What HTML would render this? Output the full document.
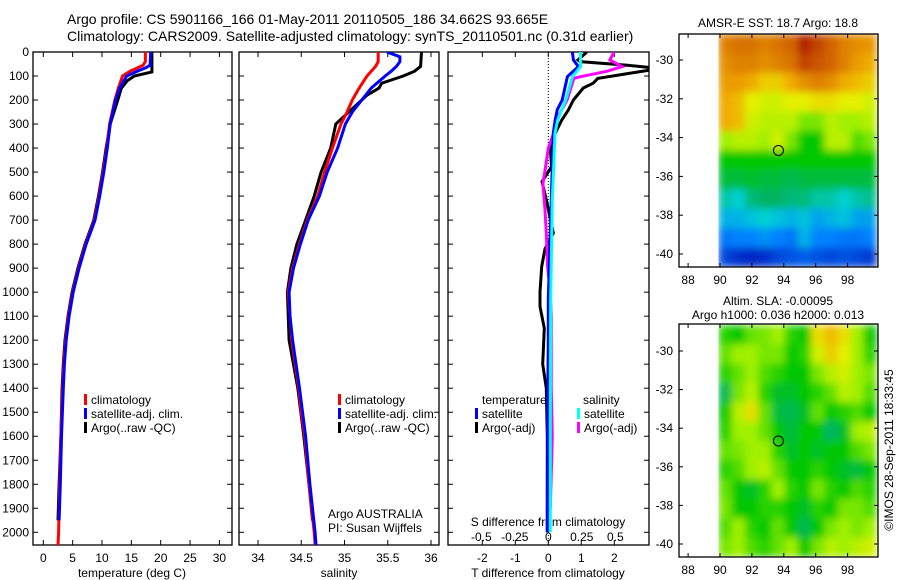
<!DOCTYPE html>
<html><head><meta charset="utf-8"><style>
body{margin:0;background:#fff;}
svg{display:block;font-family:"Liberation Sans",sans-serif;}
</style></head><body>
<svg id="fig" width="900" height="580" xmlns="http://www.w3.org/2000/svg">
<rect width="900" height="580" fill="#fff"/>
<text x="67" y="24" font-size="14">Argo profile: CS 5901166_166 01-May-2011 20110505_186 34.662S 93.665E</text>
<text x="67" y="41" font-size="14">Climatology: CARS2009. Satellite-adjusted climatology: synTS_20110501.nc (0.31d earlier)</text>
<g id="g"></g>
</svg>
<script>
// ---- data ----
const depthTc=[0,40,55,80,100,150,200,300,400,500,600,700,800,900,1000,1100,1200,1300,1400,1600,1800,2000,2053];
const tempClim=[17.4,17.4,17.0,14.8,13.5,12.8,12.2,11.3,10.8,10.2,9.5,8.7,7.2,6.0,5.0,4.3,3.8,3.5,3.3,3.0,2.8,2.6,2.5];
const depthTs=[0,55,65,80,100,150,200,300,400,500,600,700,800,900,1000,1100,1200,1300,1400,1600,1800,1950];
const tempSat=[18.3,18.2,17.5,16.0,14.2,13.0,12.3,11.4,10.9,10.3,9.6,8.8,7.3,6.1,5.1,4.4,3.9,3.6,3.4,3.1,2.9,2.7];
const depthTa=[0,83,100,120,150,200,300,400,500,600,700,800,900,1000,1100,1200,1300,1400,1600,1800,1950];
const tempArgo=[18.5,18.5,15.5,14.3,13.3,12.7,11.4,10.7,10.1,9.4,8.6,7.1,5.9,4.9,4.2,3.7,3.4,3.2,3.0,2.7,2.5];
const depthSc=[0,40,60,100,150,200,250,300,400,500,600,700,800,900,1000,1100,1200,1300,1400,1500,1600,1800,2000,2053];
const salClim=[35.39,35.39,35.36,35.26,35.17,35.09,35.03,34.96,34.86,34.77,34.69,34.57,34.48,34.40,34.35,34.37,34.39,34.43,34.47,34.50,34.54,34.59,34.65,34.66];
const depthSs=[0,20,40,60,80,100,150,200,250,300,400,500,600,700,800,900,1000,1100,1200,1400,1600,1800,2000,2053];
const salSat=[35.49,35.64,35.64,35.60,35.54,35.47,35.31,35.20,35.09,35.01,34.92,34.80,34.71,34.58,34.49,34.41,34.36,34.37,34.40,34.48,34.55,34.60,34.66,34.67];
const depthSa=[0,60,80,100,130,150,180,200,300,400,500,600,700,800,900,1000,1200,1400,1600,1800,1950];
const salArgo=[35.89,35.88,35.81,35.68,35.43,35.40,35.26,35.20,34.90,34.84,34.73,34.65,34.55,34.45,34.38,34.34,34.36,34.46,34.53,34.59,34.63];
const depthDT=[0,33,61,103,200,241,283,338,477,615,754,893,1030,1200,1500,2000];
const dTsat=[0.73,0.76,0.91,0.58,0.42,0.27,0.21,0.15,0.12,0.09,0.06,0.03,0,0,-0.02,-0.03];
const depthDA=[0,33,40,55,65,75,90,110,130,150,200,241,283,338,400,477,540,620,754,820,893,1000,1060,1150,1300,1400,1600,2000];
const dTargo=[1.17,0.9,0.97,2.4,3.1,3.1,2.4,1.5,1.36,1.06,0.76,0.61,0.41,0.21,0.06,0.1,-0.19,-0.05,0.15,-0.1,-0.2,-0.25,-0.25,-0.12,-0.17,-0.06,-0.03,-0.03];
const depthDS=[0,33,61,103,200,283,338,477,615,754,893,1030,1500,2000];
const dSsat=[0.24,0.24,0.24,0.18,0.13,0.07,0.05,0.04,0.03,0.026,0.022,0.018,0.015,0.015];
const depthDM=[0,33,61,80,103,110,200,283,338,400,477,550,650,754,893,1000,1100,1400,1600,1900];
const dSargo=[0.49,0.46,0.55,0.44,0.24,0.19,0.14,0.06,0.04,0,-0.02,-0.04,-0.025,-0.015,-0.005,0.015,0.022,0.022,0.03,0.015];
const mapLats=[-28.66,-29.66,-30.66,-31.66,-32.66,-33.66,-34.66,-35.66,-36.66,-37.66,-38.66,-39.66,-40.67];
const mapLons=[89.9,90.73,91.56,92.39,93.22,94.05,94.88,95.71,96.54,97.37,98.2,99.0,99.8];
const sstGrid=[
[0.78,0.8,0.8,0.78,0.8,0.82,0.9,0.86,0.82,0.78,0.76,0.75],
[0.76,0.78,0.78,0.76,0.78,0.8,0.86,0.84,0.82,0.78,0.74,0.72],
[0.74,0.74,0.72,0.68,0.68,0.72,0.76,0.78,0.76,0.72,0.7,0.68],
[0.72,0.7,0.64,0.62,0.62,0.64,0.64,0.66,0.66,0.64,0.64,0.62],
[0.72,0.7,0.62,0.6,0.6,0.6,0.56,0.56,0.6,0.58,0.58,0.6],
[0.58,0.6,0.6,0.58,0.62,0.56,0.5,0.5,0.6,0.6,0.54,0.56],
[0.5,0.5,0.5,0.5,0.5,0.5,0.5,0.5,0.5,0.5,0.5,0.5],
[0.47,0.47,0.48,0.47,0.47,0.46,0.47,0.47,0.47,0.47,0.47,0.47],
[0.42,0.4,0.44,0.45,0.45,0.44,0.44,0.42,0.42,0.4,0.42,0.43],
[0.36,0.36,0.38,0.4,0.38,0.36,0.38,0.34,0.36,0.38,0.34,0.34],
[0.28,0.3,0.3,0.32,0.3,0.28,0.36,0.3,0.3,0.28,0.28,0.3],
[0.2,0.16,0.14,0.16,0.2,0.22,0.24,0.22,0.2,0.22,0.2,0.18]];
const slaGrid=[
[0.52,0.5,0.55,0.56,0.58,0.52,0.5,0.66,0.7,0.66,0.58,0.5],
[0.55,0.58,0.58,0.56,0.56,0.5,0.52,0.62,0.68,0.64,0.58,0.52],
[0.52,0.55,0.58,0.54,0.52,0.5,0.5,0.56,0.6,0.62,0.58,0.56],
[0.46,0.56,0.6,0.52,0.48,0.48,0.5,0.52,0.55,0.6,0.58,0.54],
[0.5,0.6,0.66,0.55,0.47,0.46,0.48,0.55,0.5,0.52,0.54,0.5],
[0.52,0.58,0.58,0.55,0.5,0.47,0.5,0.5,0.45,0.48,0.58,0.6],
[0.55,0.56,0.58,0.58,0.52,0.48,0.5,0.48,0.5,0.5,0.54,0.56],
[0.52,0.54,0.58,0.6,0.55,0.5,0.5,0.52,0.5,0.48,0.47,0.5],
[0.55,0.5,0.48,0.52,0.58,0.52,0.5,0.56,0.52,0.5,0.54,0.52],
[0.56,0.5,0.5,0.52,0.52,0.5,0.48,0.52,0.5,0.56,0.56,0.54],
[0.54,0.58,0.52,0.5,0.55,0.5,0.46,0.5,0.56,0.58,0.56,0.58],
[0.56,0.58,0.54,0.52,0.55,0.58,0.5,0.56,0.6,0.58,0.6,0.62]];
const depthTicks=[0,100,200,300,400,500,600,700,800,900,1000,1100,1200,1300,1400,1500,1600,1700,1800,1900,2000];
const tempTicks=[0,5,10,15,20,25,30];
const salTicks=[34,34.5,35,35.5,36];
const dTTicks=[-2,-1,0,1,2];
const dSTicks=[-0.5,-0.25,0,0.25,0.5];
const dSTickLabels=["-0.5","-0.25","0","0.25","0.5"];
const lonTicks=[88,90,92,94,96,98];
const latTicks=[-30,-32,-34,-36,-38,-40];
const argoLon=93.665, argoLat=-34.662;

// ---- scales ----
const NS="http://www.w3.org/2000/svg";
const G=document.getElementById('g');
function mk(tag,attrs,parent){const e=document.createElementNS(NS,tag);for(const k in attrs)e.setAttribute(k,attrs[k]);(parent||G).appendChild(e);return e;}
const yD=d=>52+d*0.24015;
const xT=t=>43.3+t*5.87;
const xS=s=>258+(s-34)*86.5;
const xDT=v=>548.3+v*33;
const xDS=v=>548.3+v*134;
const TOP=52,BOT=545;
const panels=[{l:33,r:232},{l:239,r:439},{l:448,r:649}];

function frame(p,name){
  const r=mk('rect',{x:p.l,y:TOP,width:p.r-p.l,height:BOT-TOP,fill:'none',stroke:'#000','stroke-width':1.3});
  
  
  depthTicks.forEach(d=>{mk('line',{x1:p.l,x2:p.l+5,y1:yD(d),y2:yD(d),stroke:'#000'});mk('line',{x1:p.r,x2:p.r-5,y1:yD(d),y2:yD(d),stroke:'#000'});});
}
panels.forEach((p,i)=>frame(p,'panel-frame-'+(i+1)));
depthTicks.forEach(d=>{const t=mk('text',{x:29,y:yD(d)+4,'font-size':12,'text-anchor':'end'});t.textContent=d;

});

function xticks(ticks,labels,fx,p,ly,name){
  ticks.forEach((v,i)=>{const x=fx(v);
    mk('line',{x1:x,x2:x,y1:BOT,y2:BOT-5,stroke:'#000'});mk('line',{x1:x,x2:x,y1:TOP,y2:TOP+5,stroke:'#000'});
    const t=mk('text',{x:x,y:ly,'font-size':12,'text-anchor':'middle'});t.textContent=labels[i];
    
    });
}
xticks(tempTicks,tempTicks,xT,panels[0],562,'temperature-tick-label');
xticks(salTicks,salTicks,xS,panels[1],562,'salinity-tick-label');
xticks(dTTicks,dTTicks,xDT,panels[2],562,'tdiff-tick-label');
dSTicks.forEach((v,i)=>{const t=mk('text',{x:xDS(v),y:541,'font-size':12,'text-anchor':'middle'});t.textContent=dSTickLabels[i];

});

function label(x,y,s,name,anchor){const t=mk('text',{x:x,y:y,'font-size':12,'text-anchor':anchor||'start'});t.textContent=s;

return t;}
label(132,577,'temperature (deg C)','x-axis-title-temperature','middle');
label(339,577,'salinity','x-axis-title-salinity','middle');
label(548,577,'T difference from climatology','x-axis-title-tdiff','middle');
label(548,526,'S difference from climatology','s-diff-axis-title','middle');
label(328,518,'Argo AUSTRALIA','argo-australia-note');
label(328,532,'PI: Susan Wijffels','pi-note');

mk('line',{x1:xDT(0),x2:xDT(0),y1:TOP,y2:BOT,stroke:'#000','stroke-dasharray':'1,2'});

const defs=mk('defs',{});
function clipId(i){return 'clip'+i;}
panels.forEach((p,i)=>{const c=mk('clipPath',{id:clipId(i)},defs);mk('rect',{x:p.l,y:TOP,width:p.r-p.l,height:BOT-TOP},c);});
const blur=mk('filter',{id:'blur',x:'-5%',y:'-5%',width:'110%',height:'110%'},defs);
mk('feGaussianBlur',{stdDeviation:4,edgeMode:'duplicate'},blur);
function line(ds,vs,fx,col,pi,name){
  const pts=ds.map((d,i)=>fx(vs[i]).toFixed(1)+','+yD(d).toFixed(1)).join(' ');
  const e=mk('polyline',{points:pts,fill:'none',stroke:col,'stroke-width':3,'clip-path':'url(#'+clipId(pi)+')'});
  
  
}
line(depthTa,tempArgo,xT,'#000',0,'temp-argo-line');
line(depthTc,tempClim,xT,'#f00',0,'temp-climatology-line');
line(depthTs,tempSat,xT,'#00f',0,'temp-satellite-line');
line(depthSa,salArgo,xS,'#000',1,'sal-argo-line');
line(depthSc,salClim,xS,'#f00',1,'sal-climatology-line');
line(depthSs,salSat,xS,'#00f',1,'sal-satellite-line');
line(depthDA,dTargo,xDT,'#000',2,'tdiff-argo-line');
line(depthDM,dSargo,xDS,'#f0f',2,'sdiff-argo-line');
line(depthDT,dTsat,xDT,'#00f',2,'tdiff-satellite-line');
line(depthDS,dSsat,xDS,'#0ff',2,'sdiff-satellite-line');

function legend(x,y,items,name){
  items.forEach((it,i)=>{const yy=y+i*14;
    mk('rect',{x:x,y:yy-10,width:3,height:11,fill:it[0]});
    const t=mk('text',{x:x+7,y:yy,'font-size':12});t.textContent=it[1];
    
    });
}
legend(84,404,[['#f00','climatology'],['#00f','satellite-adj. clim.'],['#000','Argo(..raw -QC)']],'temp-legend');
legend(338,404,[['#f00','climatology'],['#00f','satellite-adj. clim.'],['#000','Argo(..raw -QC)']],'sal-legend');
label(482,404,'temperature','legend-temperature-header');
label(583,404,'salinity','legend-salinity-header');
legend(475,418,[['#00f','satellite'],['#000','Argo(-adj)']],'tdiff-legend');
legend(577,418,[['#0ff','satellite'],['#f0f','Argo(-adj)']],'sdiff-legend');

// ---- maps ----
const stops=[[0,[0,0,130]],[0.15,[0,40,200]],[0.3,[0,130,255]],[0.4,[0,210,210]],[0.45,[0,180,100]],[0.5,[0,200,0]],[0.58,[160,240,0]],[0.64,[230,240,0]],[0.72,[240,170,0]],[0.82,[210,100,0]],[0.92,[170,20,0]],[1,[130,0,0]]];
function cmap(v){for(let i=1;i<stops.length;i++){if(v<=stops[i][0]){const a=stops[i-1],b=stops[i],f=(v-a[0])/(b[0]-a[0]);return 'rgb('+a[1].map((c,k)=>Math.round(c+(b[1][k]-c)*f)).join(',')+')';}}return 'rgb(130,0,0)';}
let mapN=0;
function drawMap(top,bot,lat30,lat40,grid,name){
  const L=679,R=878;
  const xL=lon=>720+(lon-90)*15.95;
  const yL=lat=>lat30+(lat+30)*(lat40-lat30)/(-10);
  const cid='mclip'+(mapN++);
  const cp=mk('clipPath',{id:cid},defs);
  mk('rect',{x:xL(mapLons[0]),y:top,width:R-xL(mapLons[0]),height:bot-top},cp);
  const outer=mk('g',{'clip-path':'url(#'+cid+')'});
  const g=mk('g',{filter:'url(#blur)'},outer);
  
  
  grid.forEach((row,r)=>row.forEach((v,c)=>{
    const x0=xL(mapLons[c]),x1=xL(mapLons[c+1]),y0=yL(mapLats[r]),y1=yL(mapLats[r+1]);
    mk('rect',{x:x0,y:y0,width:x1-x0+0.5,height:y1-y0+0.5,fill:cmap(v)},g);
  }));
  mk('rect',{x:L,y:top,width:R-L,height:bot-top,fill:'none',stroke:'#000','stroke-width':1.3});
  lonTicks.forEach(lo=>{const x=xL(lo);mk('line',{x1:x,x2:x,y1:bot,y2:bot-4,stroke:'#000'});mk('line',{x1:x,x2:x,y1:top,y2:top+4,stroke:'#000'});
    const t=mk('text',{x:x,y:bot+17,'font-size':12,'text-anchor':'middle'});t.textContent=lo;
    
    });
  latTicks.forEach(la=>{const y=yL(la);mk('line',{x1:L,x2:L+4,y1:y,y2:y,stroke:'#000'});mk('line',{x1:R,x2:R-4,y1:y,y2:y,stroke:'#000'});
    const t=mk('text',{x:L-6,y:y+4,'font-size':12,'text-anchor':'end'});t.textContent=la;
    
    });
  const c=mk('circle',{cx:xL(argoLon),cy:yL(argoLat),r:5,fill:'none',stroke:'#000','stroke-width':1});
  
  
}
drawMap(34,267,60,254,sstGrid,'sst-map');
drawMap(324,557,351,544,slaGrid,'sla-map');
label(778,27,'AMSR-E SST: 18.7 Argo: 18.8','sst-map-title','middle');
label(778,305,'Altim. SLA: -0.00095','sla-map-title','middle');
label(778,319,'Argo h1000: 0.036 h2000: 0.013','sla-map-subtitle','middle');
const cr=label(0,0,'©IMOS 28-Sep-2011 18:33:45','copyright-note','middle');
cr.setAttribute('transform','translate(893,450) rotate(-90)');
</script>
</body></html>
